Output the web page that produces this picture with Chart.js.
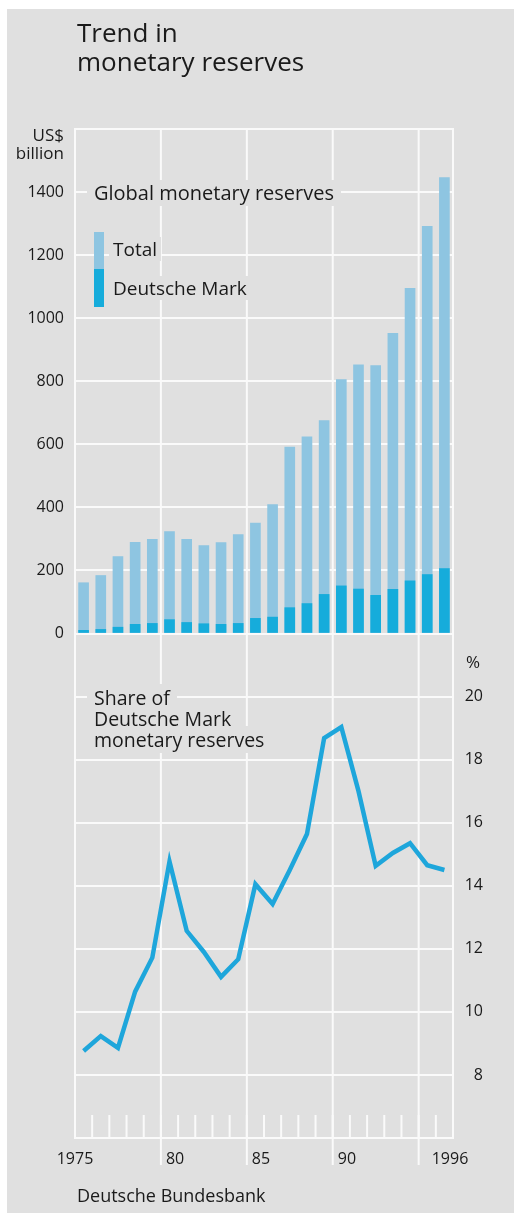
<!DOCTYPE html>
<html><head><meta charset="utf-8">
<script src="https://cdn.jsdelivr.net/npm/chart.js@4.4.1/dist/chart.umd.min.js"></script>
<style>
html,body{margin:0;padding:0;background:#fff;}
body{width:514px;height:1213px;position:relative;overflow:hidden;font-family:"Open Sans",sans-serif;color:#1a1a1a;}
#panel{position:absolute;left:7px;top:9px;right:0;bottom:0;background:#e0e0e0;}
#wrap{position:absolute;left:0;top:0;width:514px;height:1213px;}
.t{position:absolute;white-space:nowrap;}
.bg{background:#e0e0e0;}
</style></head><body>
<div id="panel"></div>
<div id="wrap"><canvas id="c" width="514" height="1213"></canvas></div>
<div class="t" style="left:77px;top:18px;font-size:26px;line-height:29px;">Trend in<br>monetary reserves</div>
<div class="t" style="left:0;width:64px;text-align:right;top:126px;font-size:17px;line-height:18px;">US$<br>billion</div>
<div class="t bg" style="left:87px;top:180px;font-size:20px;line-height:26px;padding:0 7px;">Global monetary reserves</div>
<div class="t" style="left:94px;top:232px;width:10px;height:37px;background:#8ec5e1;"></div>
<div class="t" style="left:94px;top:269px;width:10px;height:38px;background:#16acdb;"></div>
<div class="t bg" style="left:109px;top:237px;font-size:19px;line-height:24px;padding:0 4px;">Total</div>
<div class="t bg" style="left:109px;top:276px;font-size:19px;line-height:24px;padding:0 4px;">Deutsche Mark</div>
<div class="t" style="left:87px;top:687px;font-size:19.5px;line-height:21px;"><span class="bg" style="padding:0 7px;">Share of</span><br><span class="bg" style="padding:0 7px;">Deutsche Mark</span><br><span class="bg" style="padding:0 7px;">monetary reserves</span></div>
<div class="t" style="left:466px;top:652px;font-size:17px;line-height:20px;">%</div>
<div class="t" style="left:77px;top:1184px;font-size:18px;line-height:22px;">Deutsche Bundesbank</div>
<script>
const years = [1975,1976,1977,1978,1979,1980,1981,1982,1983,1984,1985,1986,1987,1988,1989,1990,1991,1992,1993,1994,1995,1996];
const totalReserves = [161,184,244,289,299,323,299,279,288,314,350,409,591,624,675,805,852,850,952,1095,1291,1446];
const dmReserves = [10,13,20,29,32,44,35,31,29,32,48,52,82,95,124,151,141,121,140,167,187,206];
const dmShare = [8.76,9.23,8.86,10.64,11.72,14.77,12.57,11.9,11.11,11.67,14.05,13.42,14.5,15.64,18.68,19.03,17.0,14.63,15.04,15.35,14.65,14.5];
const reserveTicks = [0,200,400,600,800,1000,1200,1400,1600];
const shareTicks = [8,10,12,14,16,18,20];
const majorYears = [1975,1980,1985,1990,1995,1997];
const xTickLabels = [
  {year:1975, text:'1975', align:'center'},
  {year:1980, text:'80', align:'left'},
  {year:1985, text:'85', align:'left'},
  {year:1990, text:'90', align:'left'},
  {year:1997, text:'1996', align:'center'}
];

const GRID = '#fafafa';
const TEXT = '#1a1a1a';
const FONT = '"Open Sans", sans-serif';

const xDeco = {
  id: 'xDeco',
  beforeDatasetsDraw(chart) {
    const {ctx, chartArea: a, scales: {x}} = chart;
    ctx.save();
    ctx.strokeStyle = GRID;
    ctx.lineWidth = 2;
    const line = (x1, y1, x2, y2) => { ctx.beginPath(); ctx.moveTo(x1, y1); ctx.lineTo(x2, y2); ctx.stroke(); };
    majorYears.forEach(v => { const p = x.getPixelForValue(v); line(p, a.top - 1, p, a.bottom); });
    for (let v = 1976; v <= 1996; v++) {
      const p = x.getPixelForValue(v);
      line(p, a.bottom - 23, p, a.bottom);
    }
    [1980, 1985, 1990, 1995].forEach(v => { const p = x.getPixelForValue(v); line(p, a.bottom, p, a.bottom + 27); });
    line(a.left - 1, a.bottom, a.right + 1, a.bottom);
    ctx.fillStyle = TEXT;
    ctx.font = '16px ' + FONT;
    ctx.textBaseline = 'middle';
    xTickLabels.forEach(l => {
      let p = x.getPixelForValue(l.year);
      ctx.textAlign = l.align;
      if (l.align === 'left') p += 5;
      if (l.year === 1997) p -= 3;
      ctx.fillText(l.text, p, a.bottom + 21);
    });
    ctx.restore();
  }
};

new Chart(document.getElementById('c'), {
  type: 'bar',
  data: {
    datasets: [
      {
        type: 'line',
        label: 'Share of Deutsche Mark',
        data: years.map((y, i) => ({x: y + 0.5, y: dmShare[i]})),
        yAxisID: 'y2',
        borderColor: '#1ea6db',
        borderWidth: 4.5,
        pointRadius: 0,
        tension: 0,
        order: 0
      },
      {
        label: 'Deutsche Mark',
        data: years.map((y, i) => ({x: y + 0.5, y: dmReserves[i]})),
        yAxisID: 'y',
        backgroundColor: '#16acdb',
        barThickness: 10,
        grouped: false,
        order: 1
      },
      {
        label: 'Total',
        data: years.map((y, i) => ({x: y + 0.5, y: totalReserves[i]})),
        yAxisID: 'y',
        backgroundColor: '#8ec5e1',
        barThickness: 10,
        grouped: false,
        order: 2
      }
    ]
  },
  options: {
    responsive: false,
    devicePixelRatio: 1,
    animation: false,
    layout: {padding: {top: 129, bottom: 75, left: 0, right: 31}},
    plugins: {legend: {display: false}, tooltip: {enabled: false}},
    scales: {
      x: {type: 'linear', min: 1975, max: 1997, offset: false, display: false},
      y: {
        position: 'left', min: -1600, max: 1600,
        afterBuildTicks: s => { s.ticks = reserveTicks.map(v => ({value: v})); },
        afterFit: s => { s.width = 75; },
        grid: {color: GRID, lineWidth: 2, drawTicks: false},
        border: {color: GRID, width: 2},
        ticks: {autoSkip: false, padding: 11, color: TEXT, font: {family: FONT, size: 16},
          callback: v => v === 1600 ? '' : String(v)}
      },
      y2: {
        position: 'right', min: 6, max: 38,
        afterBuildTicks: s => { s.ticks = shareTicks.map(v => ({value: v})); },
        afterFit: s => { s.width = 30; },
        grid: {color: GRID, lineWidth: 2, drawTicks: false},
        border: {color: GRID, width: 2},
        ticks: {autoSkip: false, crossAlign: 'far', padding: 8, color: TEXT, font: {family: FONT, size: 16},
          callback: v => String(v)}
      }
    }
  },
  plugins: [xDeco]
});
</script>
</body></html>
